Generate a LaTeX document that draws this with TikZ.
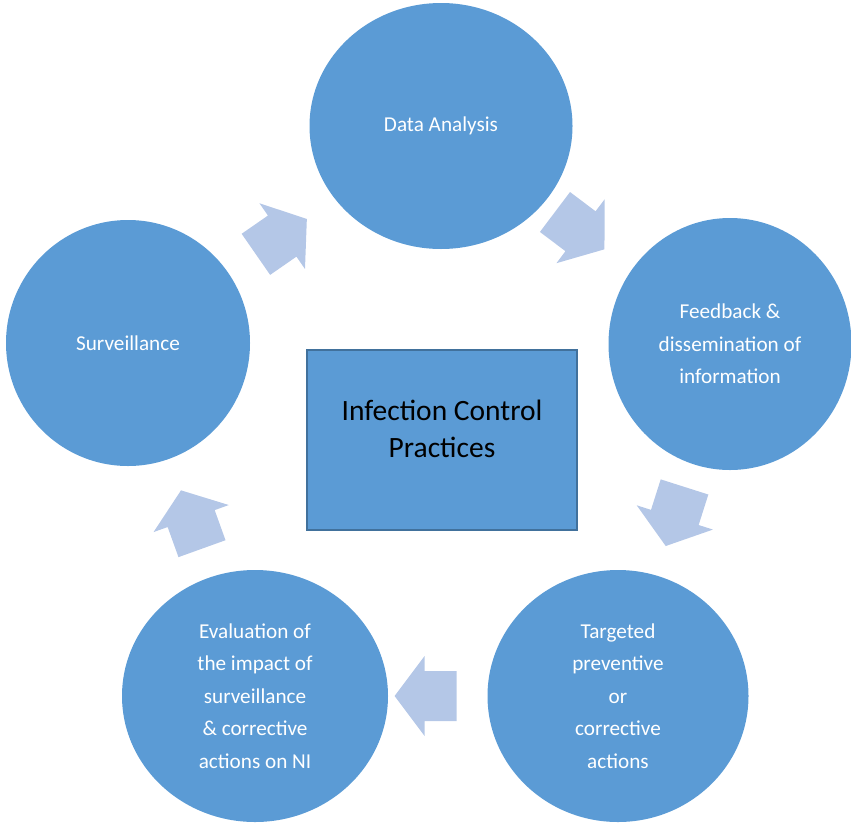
\documentclass[tikz,border=0pt]{standalone}
\usepackage{fontspec}
\setmainfont{Carlito}
\usepackage{tikz}
\usetikzlibrary{shapes.geometric,calc}
\definecolor{circblue}{RGB}{91,155,213}
\definecolor{arrowblue}{RGB}{180,199,231}
\definecolor{edgeblue}{RGB}{65,113,156}

\tikzset{
  stage/.style={ellipse,fill=circblue,text=white,inner sep=0pt,align=center,
    font=\fontsize{21.2}{32.5}\selectfont},
  hub/.style={draw=edgeblue,line width=2pt,fill=circblue,minimum width=270pt,minimum height=180pt},
  flow/.pic={\fill[arrowblue] (-31,-25) -- (1,-25) -- (1,-40) -- (31,0) -- (1,40) -- (1,25) -- (-31,25) -- cycle;}
}

\begin{document}
\begin{tikzpicture}[x=1pt,y=-1pt]
\useasboundingbox (0,0) rectangle (851,825);

\node[stage,minimum width=263pt,minimum height=246pt](data) at (441,126){Data Analysis};
\node[stage,minimum width=243pt,minimum height=252pt](feed) at (730,344){Feedback \&\\dissemination of\\information};
\node[stage,minimum width=261pt,minimum height=252pt](targ) at (618,696){Targeted\\preventive\\or\\corrective\\actions};
\node[stage,minimum width=266pt,minimum height=252pt](eval) at (255,696){Evaluation of\\the impact of\\surveillance\\\& corrective\\actions on NI};
\node[stage,minimum width=244pt,minimum height=246pt](surv) at (128,343){Surveillance};

\node[hub](icp) at (442,440){};
\node[align=center,font=\fontsize{29.5}{37.5}\selectfont,yshift=11pt](icptext) at (icp){Infection Control\\Practices};

% block arrows between the stages
\path let \p1=($(data)-(surv)$), \n1={atan2(\y1,\x1)} in pic[rotate=\n1] at ($(surv)!0.49!(data)$) {flow};
\path let \p1=($(feed)-(data)$), \n1={atan2(\y1,\x1)} in pic[rotate=\n1] at ($(data)!0.48!(feed)$) {flow};
\path let \p1=($(targ)-(feed)$), \n1={atan2(\y1,\x1)} in pic[rotate=\n1] at ($(feed)!0.49!(targ)$) {flow};
\path let \p1=($(eval)-(targ)$), \n1={atan2(\y1,\x1)} in pic[rotate=\n1] at ($(targ)!0.53!(eval)$) {flow};
\path let \p1=($(surv)-(eval)$), \n1={atan2(\y1,\x1)} in pic[rotate=\n1] at ($(eval)!0.5!(surv)$) {flow};
\end{tikzpicture}
\end{document}
